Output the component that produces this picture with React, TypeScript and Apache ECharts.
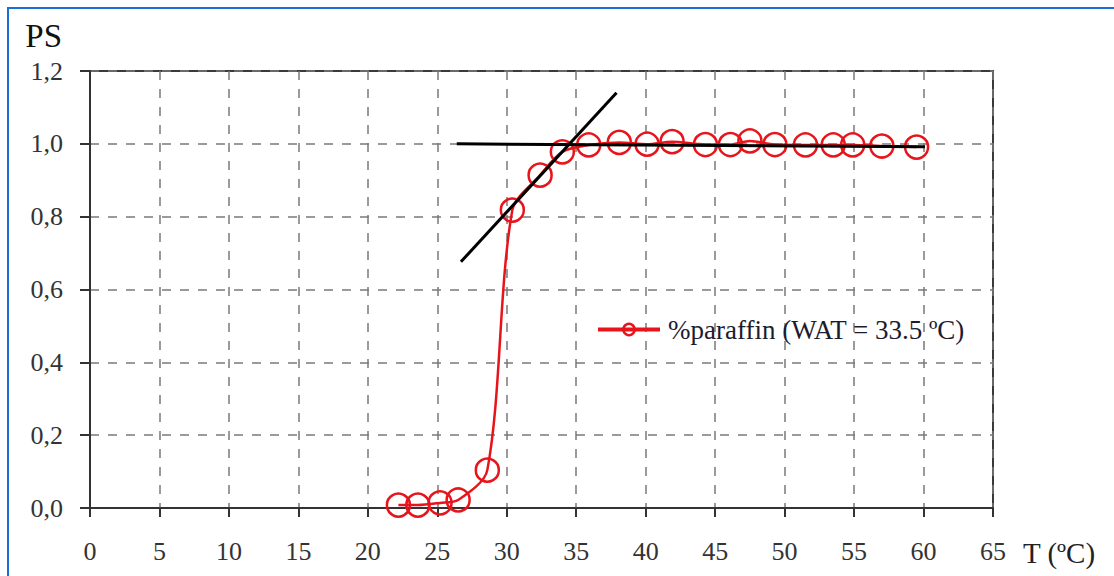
import React, { useEffect, useRef } from "react";
import * as echarts from "echarts";

// Measured series (%paraffin)
const temperature = [22.2, 23.6, 25.2, 26.5, 28.6, 30.4, 32.4, 34.0, 35.9, 38.1, 40.1, 41.9, 44.3, 46.1, 47.5, 49.3, 51.5, 53.5, 54.9, 57.0, 59.5];
const paraffin = [0.008, 0.008, 0.014, 0.022, 0.104, 0.818, 0.914, 0.978, 0.997, 1.004, 0.999, 1.006, 0.998, 0.998, 1.008, 0.998, 0.997, 0.997, 0.997, 0.994, 0.991];

// Construction lines used to find the WAT
const tangentT = [26.7, 37.9];
const tangentPS = [0.676, 1.14];
const plateauT = [26.4, 60.1];
const plateauPS = [1.0, 0.992];

const seriesName = "%paraffin (WAT = 33.5 ºC)";
const xTitle = "T (ºC)";
const yTitle = "PS";

const zip = (xs: number[], ys: number[]) => xs.map((x, i) => [x, ys[i]]);

const FONT = "Liberation Serif";

export default function App() {
  const ref = useRef<HTMLDivElement>(null);

  useEffect(() => {
    if (!ref.current) return;
    const chart = echarts.init(ref.current, undefined, { renderer: "svg" });
    chart.setOption({
      animation: false,
      backgroundColor: "transparent",
      grid: {
        left: 90,
        top: 71,
        right: 121,
        bottom: 68,
        show: true,
        borderColor: "#3a3a3a",
        borderWidth: 2,
        backgroundColor: "transparent",
      },
      legend: {
        data: [seriesName],
        left: 591,
        top: 311,
        itemWidth: 62,
        itemHeight: 14,
        lineStyle: { width: 4 },
        itemStyle: { borderWidth: 2.5 },
        textStyle: {
          fontFamily: FONT,
          fontSize: 27,
          color: "#1c1c30",
          padding: [0, 0, 0, 3],
        },
      },
      xAxis: {
        type: "value",
        min: 0,
        max: 65,
        interval: 5,
        name: xTitle,
        nameLocation: "end",
        nameGap: 30,
        nameTextStyle: {
          fontFamily: FONT,
          fontSize: 29,
          color: "#222",
          verticalAlign: "top",
          padding: [30, 0, 0, 0],
        },
        axisLine: { show: true, onZero: false, lineStyle: { color: "#333", width: 2 } },
        axisTick: { show: true, length: 9, lineStyle: { color: "#333", width: 2 } },
        axisLabel: { fontFamily: FONT, fontSize: 26, color: "#333", margin: 30 },
        splitLine: { show: true, lineStyle: { color: "#7a7a7a", width: 1.5, type: [9, 9] } },
      },
      yAxis: {
        type: "value",
        min: 0,
        max: 1.2,
        interval: 0.2,
        name: yTitle,
        nameLocation: "end",
        nameGap: 19,
        nameTextStyle: {
          fontFamily: FONT,
          fontSize: 33,
          color: "#111",
          align: "right",
          padding: [0, 28, 0, 0],
        },
        axisLine: { show: true, lineStyle: { color: "#333", width: 2 } },
        axisTick: { show: true, length: 10, lineStyle: { color: "#333", width: 2 } },
        axisLabel: {
          fontFamily: FONT,
          fontSize: 26,
          color: "#333",
          margin: 27,
          formatter: (v: number) => v.toFixed(1).replace(".", ","),
        },
        splitLine: { show: true, lineStyle: { color: "#7a7a7a", width: 1.5, type: [9, 9] } },
      },
      series: [
        {
          name: seriesName,
          type: "line",
          data: zip(temperature, paraffin),
          smooth: 0.3,
          symbol: "circle",
          symbolSize: 23,
          lineStyle: { color: "#e8141b", width: 2.5 },
          itemStyle: { color: "rgba(0,0,0,0)", borderColor: "#e8141b", borderWidth: 2.5 },
          z: 2,
        },
        {
          name: "tangent",
          type: "line",
          data: zip(tangentT, tangentPS),
          symbol: "none",
          lineStyle: { color: "#000", width: 3 },
          z: 3,
        },
        {
          name: "plateau",
          type: "line",
          data: zip(plateauT, plateauPS),
          symbol: "none",
          lineStyle: { color: "#000", width: 3 },
          z: 3,
        },
      ],
    });
    return () => chart.dispose();
  }, []);

  return (
    <div style={{ position: "fixed", left: 0, top: 0, width: 1114, height: 576, background: "#fff" }}>
      <div
        style={{
          position: "absolute",
          left: 7,
          top: 7,
          width: 1200,
          height: 700,
          borderLeft: "2px solid #1a6fd4",
          borderTop: "2px solid #1a6fd4",
        }}
      />
      <div ref={ref} style={{ position: "absolute", left: 0, top: 0, width: 1114, height: 576 }} />
    </div>
  );
}
